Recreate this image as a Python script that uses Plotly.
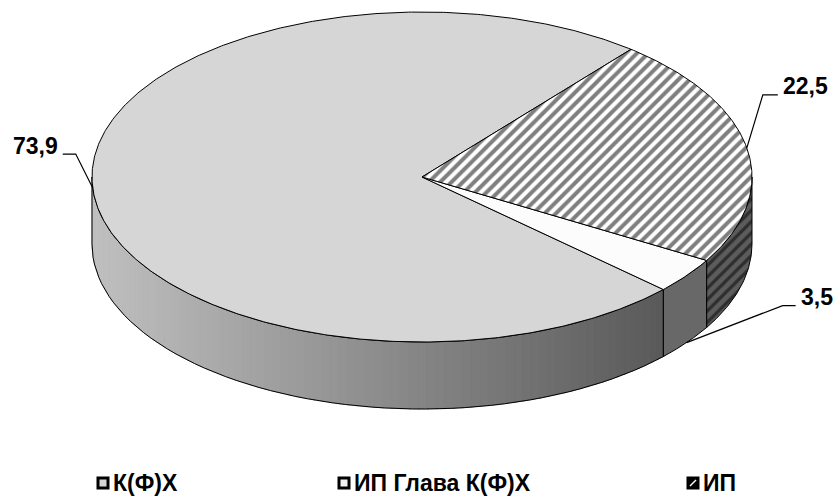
import numpy as np
import plotly.graph_objects as go

# ---- data -------------------------------------------------------------
categories = ["К(Ф)Х", "ИП Глава К(Ф)Х", "ИП"]
values = [73.9, 3.5, 22.5]
value_labels = ["73,9", "3,5", "22,5"]

# ---- 3D pie geometry (plot units are pixels) ---------------------------
CX, CY = 422, 177          # centre of the top face
RX, RY = 330, 165          # semi-axes of the top ellipse
DEPTH = 67                 # height of the pie wall
START_DEG = 50.7           # angle of the first slice edge, counter-clockwise

FONT = "Liberation Sans, Arial, sans-serif"
LABEL_SIZE = 23

top_colors = ["#d6d6d6", "#fcfcfc", "white"]
side_colors = ["#8a8a8a", "#686868", "#5a5a5a"]
top_patterns = [None, None,
                dict(shape="/", fgcolor="black", bgcolor="white", size=8, solidity=0.5)]
side_patterns = [None, None,
                 dict(shape="/", fgcolor="black", bgcolor="#5c5c5c", size=8, solidity=0.4)]
# elbow of each leader line, relative to its anchor on the pie
label_elbow = [(-17, -34), (96, -37), (16, -53)]
label_run = [-13, 13, 15]

# legend row: swatch centre x for each category, and the row's y
legend_swatch_x = [103, 344, 693]
LEGEND_Y = 483


def rim(t_deg, drop=0.0):
    t = np.radians(t_deg)
    return CX + RX * np.cos(t), CY - RY * np.sin(t) + drop


total = sum(values)
spans = []
acc = START_DEG
for v in values:
    sweep = v / total * 360.0
    spans.append((acc, acc + sweep))
    acc += sweep


def front_part(a, b):
    """Part of [a, b] (degrees) lying on the visible front half of the rim."""
    parts = []
    for k in (-1, 0, 1):
        lo, hi = max(a, 180 + 360 * k), min(b, 360 + 360 * k)
        if hi > lo:
            parts.append((lo, hi))
    return parts


fig = go.Figure()


def wall_poly(lo, hi, n=60):
    ts = np.linspace(lo, hi, n)
    xt, yt = rim(ts)
    xb, yb = rim(ts[::-1], DEPTH)
    return np.concatenate([xt, xb, xt[:1]]), np.concatenate([yt, yb, yt[:1]])


# ---- walls ------------------------------------------------------------
for i, (a, b) in enumerate(spans):
    for lo, hi in front_part(a, b):
        if i == 0:
            # shaded wall: light on the left, darker to the right
            edges = np.linspace(lo, hi, 90)
            for t0, t1 in zip(edges[:-1], edges[1:]):
                xs, ys = wall_poly(t0, t1 + 0.3, 4)
                xm = np.mean(xs)
                f = (xm - (CX - RX)) / (2 * RX)
                g = int(round(192 - 118 * f))
                col = f"rgb({g},{g},{g})"
                fig.add_trace(go.Scatter(x=xs, y=ys, mode="lines", fill="toself",
                                         fillcolor=col, line=dict(color=col, width=0.6),
                                         hoverinfo="skip", showlegend=False))
            xs, ys = wall_poly(lo, hi)
            fig.add_trace(go.Scatter(x=xs, y=ys, mode="lines",
                                     line=dict(color="black", width=1),
                                     hoverinfo="skip", showlegend=False))
        else:
            xs, ys = wall_poly(lo, hi)
            kw = dict(fillpattern=side_patterns[i]) if side_patterns[i] else {}
            fig.add_trace(go.Scatter(x=xs, y=ys, mode="lines", fill="toself",
                                     fillcolor=side_colors[i],
                                     line=dict(color="black", width=1),
                                     hoverinfo="skip", showlegend=False, **kw))

# ---- top faces --------------------------------------------------------
for i, (a, b) in enumerate(spans):
    ts = np.linspace(a, b, max(4, int((b - a) * 2)))
    xa, ya = rim(ts)
    xs = np.concatenate([[CX], xa, [CX]])
    ys = np.concatenate([[CY], ya, [CY]])
    kw = dict(fillpattern=top_patterns[i]) if top_patterns[i] else {}
    fig.add_trace(go.Scatter(x=xs, y=ys, mode="lines", fill="toself",
                             fillcolor=top_colors[i],
                             line=dict(color="black", width=1),
                             hoverinfo="skip", showlegend=False, **kw))

# ---- value labels with leader lines -----------------------------------
annotations = []
for i, (a, b) in enumerate(spans):
    mid = (a + b) / 2
    drop = DEPTH if np.sin(np.radians(mid)) < -0.5 else 0.0
    ax, ay = rim(mid, drop)
    ex, ey = ax + label_elbow[i][0], ay + label_elbow[i][1]
    fx = ex + label_run[i]
    fig.add_trace(go.Scatter(x=[ax, ex, fx], y=[ay, ey, ey], mode="lines",
                             line=dict(color="black", width=1.2),
                             hoverinfo="skip", showlegend=False))
    right = label_run[i] < 0
    annotations.append(dict(x=fx + (-3 if right else 3), y=ey, text=value_labels[i],
                            showarrow=False, xanchor="right" if right else "left",
                            yanchor="bottom", yshift=-6.5,
                            font=dict(family=FONT, size=LABEL_SIZE, color="black",
                                      weight="bold")))

# ---- legend row -------------------------------------------------------
swatch_fill = ["#d6d6d6", "#f2f2f2", "black"]
fig.add_trace(go.Scatter(
    x=legend_swatch_x, y=[LEGEND_Y] * len(categories), mode="markers",
    marker=dict(symbol="square", size=10, color=swatch_fill,
                line=dict(color="black", width=3)),
    hoverinfo="skip", showlegend=False))
# the hatched category gets a white stroke across its dark swatch
fig.add_trace(go.Scatter(
    x=[legend_swatch_x[2]], y=[LEGEND_Y], mode="markers",
    marker=dict(symbol="line-ne", size=6, line=dict(color="white", width=1.5)),
    hoverinfo="skip", showlegend=False))
for name, sx in zip(categories, legend_swatch_x):
    annotations.append(dict(x=sx + 8, y=LEGEND_Y, text=name, showarrow=False,
                            xanchor="left", yanchor="middle",
                            font=dict(family=FONT, size=LABEL_SIZE, color="black",
                                      weight="bold")))

fig.update_layout(
    width=833, height=499,
    margin=dict(l=0, r=0, t=0, b=0),
    paper_bgcolor="white", plot_bgcolor="white",
    xaxis=dict(range=[0, 833], visible=False, fixedrange=True),
    yaxis=dict(range=[499, 0], visible=False, fixedrange=True),
    annotations=annotations,
    showlegend=False,
)

fig.write_html("out.html")
